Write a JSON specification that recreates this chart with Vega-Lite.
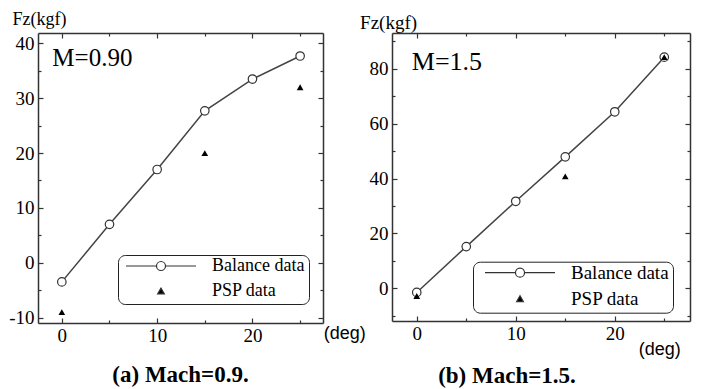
{
  "$schema": "https://vega.github.io/schema/vega-lite/v6.json",
  "autosize": {"type": "none"},
  "padding": {"left": 38, "top": 33, "right": 669, "bottom": 356},
  "background": "white",
  "bounds": "flush",
  "spacing": 69,
  "resolve": {"scale": {"shape": "independent", "fill": "independent", "size": "independent"}, "legend": {"shape": "independent", "fill": "independent", "size": "independent"}},
  "datasets": {
    "mach09": [
      {"series": "Balance data", "deg": 0, "fz": -3.5},
      {"series": "Balance data", "deg": 5, "fz": 7},
      {"series": "Balance data", "deg": 10, "fz": 17},
      {"series": "Balance data", "deg": 15, "fz": 27.7},
      {"series": "Balance data", "deg": 20, "fz": 33.5},
      {"series": "Balance data", "deg": 25, "fz": 37.7},
      {"series": "PSP data", "deg": 0, "fz": -9},
      {"series": "PSP data", "deg": 15, "fz": 20},
      {"series": "PSP data", "deg": 25, "fz": 32}
    ],
    "mach15": [
      {"series": "Balance data", "deg": 0, "fz": -1.5},
      {"series": "Balance data", "deg": 5, "fz": 15.2},
      {"series": "Balance data", "deg": 10, "fz": 31.7},
      {"series": "Balance data", "deg": 15, "fz": 47.9},
      {"series": "Balance data", "deg": 20, "fz": 64.3},
      {"series": "Balance data", "deg": 25, "fz": 84.2},
      {"series": "PSP data", "deg": 0, "fz": -2.8},
      {"series": "PSP data", "deg": 15, "fz": 40.8},
      {"series": "PSP data", "deg": 25, "fz": 84.2}
    ]
  },
  "config": {
    "view": {"stroke": null},
    "axis": {
      "domainColor": "#333", "domainWidth": 1.5, "tickColor": "#333", "tickWidth": 1.2,
      "labelFont": "Liberation Serif", "labelFontSize": 19, "labelColor": "black",
      "grid": false, "titleFont": "Liberation Serif", "titleFontWeight": "normal", "titleColor": "black"
    },
    "title": {"font": "Liberation Serif", "fontWeight": "bold", "fontSize": 23, "color": "black"},
    "legend": {
      "orient": "none", "labelFont": "Liberation Serif", "labelFontSize": 18, "labelColor": "black",
      "symbolStrokeWidth": 1.2, "symbolOpacity": 1, "clipHeight": 14,
      "strokeColor": "#222", "fillColor": "white", "cornerRadius": 7, "padding": 4,
      "rowPadding": 7, "symbolOffset": 3, "labelOffset": 15
    }
  },
  "hconcat": [
    {
      "width": 285, "height": 290,
      "data": {"name": "mach09"},
      "title": {"text": "(a) Mach=0.9.", "orient": "bottom", "anchor": "middle", "frame": "group", "offset": 37, "baseline": "alphabetic"},
      "resolve": {"axis": {"x": "independent", "y": "independent"}},
      "layer": [
        {
          "transform": [{"filter": "datum.series === 'Balance data'"}],
          "mark": {"type": "line", "color": "#444", "strokeWidth": 1.5},
          "encoding": {
            "x": {"field": "deg", "type": "quantitative", "scale": {"domain": [-2.5, 27.4], "nice": false, "zero": false},
              "axis": {"orient": "bottom", "values": [0, 10, 20], "format": "d",
                "labelFont": "Liberation Serif", "labelFontSize": 19, "labelColor": "black",
                "tickSize": -5, "labelPadding": 8, "title": "(deg)", "titleFont": "Liberation Sans", "titleFontSize": 18, "titleFontWeight": "normal",
                "titleX": 285.3, "titleY": 10.5, "titleAlign": "left", "titleBaseline": "middle", "titleAngle": 0}},
            "y": {"field": "fz", "type": "quantitative", "scale": {"domain": [-11, 41.9], "nice": false, "zero": false},
              "axis": {"orient": "left", "values": [-10, 0, 10, 20, 30, 40], "labelExpr": "'' + datum.value",
                "labelFont": "Liberation Serif", "labelFontSize": 19, "labelColor": "black",
                "tickSize": -5, "labelPadding": 9, "title": "Fz(kgf)", "titleFont": "Liberation Serif", "titleFontSize": 18, "titleFontWeight": "normal",
                "titleX": -26, "titleY": -9, "titleAlign": "left", "titleBaseline": "alphabetic", "titleAngle": 0}}
          }
        },
        {
          "transform": [{"filter": "datum.series === 'Balance data'"}],
          "mark": {"type": "point", "shape": "circle", "filled": true, "fill": "white", "stroke": "#333", "strokeWidth": 1.2, "size": 72, "opacity": 1},
          "encoding": {
            "x": {"field": "deg", "type": "quantitative",
              "axis": {"orient": "top", "values": [0, 10, 20], "labels": false, "title": null, "tickSize": -5}},
            "y": {"field": "fz", "type": "quantitative",
              "axis": {"orient": "right", "values": [-10, 0, 10, 20, 30, 40], "labels": false, "title": null, "tickSize": -5}}
          }
        },
        {
          "transform": [{"filter": "datum.series === 'PSP data'"}],
          "mark": {"type": "point", "shape": "triangle-up", "filled": true, "color": "black", "strokeWidth": 0, "size": 45, "opacity": 1},
          "encoding": {
            "x": {"field": "deg", "type": "quantitative",
              "axis": {"orient": "bottom", "values": [5, 15, 25], "labels": false, "title": null, "domain": false, "tickSize": -3}},
            "y": {"field": "fz", "type": "quantitative",
              "axis": {"orient": "left", "values": [-5, 5, 15, 25, 35], "labels": false, "title": null, "domain": false, "tickSize": -3}}
          }
        },
        {
          "data": {"values": [{"label": "M=0.90"}]},
          "mark": {"type": "text", "font": "Liberation Serif", "fontSize": 25, "align": "left", "baseline": "alphabetic", "color": "black"},
          "encoding": {
            "x": {"datum": -1, "type": "quantitative",
              "axis": {"orient": "top", "values": [5, 15, 25], "labels": false, "title": null, "domain": false, "tickSize": -3}},
            "y": {"datum": 35.8, "type": "quantitative",
              "axis": {"orient": "right", "values": [-5, 5, 15, 25, 35], "labels": false, "title": null, "domain": false, "tickSize": -3}},
            "text": {"field": "label"}
          }
        },
        {
          "mark": {"type": "point", "filled": true, "stroke": "#333", "strokeWidth": 1.2, "opacity": 0},
          "encoding": {
            "x": {"field": "deg", "type": "quantitative", "axis": null},
            "y": {"field": "fz", "type": "quantitative", "axis": null},
            "shape": {"field": "series", "type": "nominal",
              "scale": {"domain": ["Balance data", "PSP data"], "range": ["M-1,0L-0.129,0M0.129,0L1,0M0.129,0A0.129,0.129,0,1,1,-0.129,0A0.129,0.129,0,1,1,0.129,0Z", "triangle-up"]},
              "legend": {"title": null, "legendX": 80, "legendY": 222, "labelFontSize": 18}},
            "fill": {"field": "series", "type": "nominal",
              "scale": {"domain": ["Balance data", "PSP data"], "range": ["white", "black"]}},
            "size": {"field": "series", "type": "ordinal",
              "scale": {"domain": ["Balance data", "PSP data"], "range": [4900, 45]}}
          }
        }
      ]
    },
    {
      "width": 298, "height": 288,
      "data": {"name": "mach15"},
      "title": {"text": "(b) Mach=1.5.", "orient": "bottom", "anchor": "middle", "frame": "group", "offset": 24, "dx": -34, "baseline": "alphabetic"},
      "resolve": {"axis": {"x": "independent", "y": "independent"}},
      "layer": [
        {
          "transform": [{"filter": "datum.series === 'Balance data'"}],
          "mark": {"type": "line", "color": "#444", "strokeWidth": 1.5},
          "encoding": {
            "x": {"field": "deg", "type": "quantitative", "scale": {"domain": [-2.5, 27.6], "nice": false, "zero": false},
              "axis": {"orient": "bottom", "values": [0, 10, 20], "format": "d",
                "labelFont": "Liberation Serif", "labelFontSize": 19, "labelColor": "black",
                "tickSize": -5, "labelPadding": 8, "title": "(deg)", "titleFont": "Liberation Sans", "titleFontSize": 18, "titleFontWeight": "normal",
                "titleX": 246.3, "titleY": 28.7, "titleAlign": "left", "titleBaseline": "middle", "titleAngle": 0}},
            "y": {"field": "fz", "type": "quantitative", "scale": {"domain": [-11.9, 93], "nice": false, "zero": false},
              "axis": {"orient": "left", "values": [0, 20, 40, 60, 80], "labelExpr": "'' + datum.value",
                "labelFont": "Liberation Serif", "labelFontSize": 19, "labelColor": "black",
                "tickSize": -5, "labelPadding": 9, "title": "Fz(kgf)", "titleFont": "Liberation Serif", "titleFontSize": 19, "titleFontWeight": "normal",
                "titleX": -32.4, "titleY": -5, "titleAlign": "left", "titleBaseline": "alphabetic", "titleAngle": 0}}
          }
        },
        {
          "transform": [{"filter": "datum.series === 'Balance data'"}],
          "mark": {"type": "point", "shape": "circle", "filled": true, "fill": "white", "stroke": "#333", "strokeWidth": 1.2, "size": 72, "opacity": 1},
          "encoding": {
            "x": {"field": "deg", "type": "quantitative",
              "axis": {"orient": "top", "values": [0, 10, 20], "labels": false, "title": null, "tickSize": -5}},
            "y": {"field": "fz", "type": "quantitative",
              "axis": {"orient": "right", "values": [0, 20, 40, 60, 80], "labels": false, "title": null, "tickSize": -5}}
          }
        },
        {
          "transform": [{"filter": "datum.series === 'PSP data'"}],
          "mark": {"type": "point", "shape": "triangle-up", "filled": true, "color": "black", "strokeWidth": 0, "size": 45, "opacity": 1},
          "encoding": {
            "x": {"field": "deg", "type": "quantitative",
              "axis": {"orient": "bottom", "values": [5, 15, 25], "labels": false, "title": null, "domain": false, "tickSize": -3}},
            "y": {"field": "fz", "type": "quantitative",
              "axis": {"orient": "left", "values": [-10, 10, 30, 50, 70, 90], "labels": false, "title": null, "domain": false, "tickSize": -3}}
          }
        },
        {
          "data": {"values": [{"label": "M=1.5"}]},
          "mark": {"type": "text", "font": "Liberation Serif", "fontSize": 26, "align": "left", "baseline": "alphabetic", "color": "black"},
          "encoding": {
            "x": {"datum": -0.5, "type": "quantitative",
              "axis": {"orient": "top", "values": [5, 15, 25], "labels": false, "title": null, "domain": false, "tickSize": -3}},
            "y": {"datum": 79.6, "type": "quantitative",
              "axis": {"orient": "right", "values": [-10, 10, 30, 50, 70, 90], "labels": false, "title": null, "domain": false, "tickSize": -3}},
            "text": {"field": "label"}
          }
        },
        {
          "mark": {"type": "point", "filled": true, "stroke": "#333", "strokeWidth": 1.2, "opacity": 0},
          "encoding": {
            "x": {"field": "deg", "type": "quantitative", "axis": null},
            "y": {"field": "fz", "type": "quantitative", "axis": null},
            "shape": {"field": "series", "type": "nominal",
              "scale": {"domain": ["Balance data", "PSP data"], "range": ["M-1,0L-0.129,0M0.129,0L1,0M0.129,0A0.129,0.129,0,1,1,-0.129,0A0.129,0.129,0,1,1,0.129,0Z", "triangle-up"]},
              "legend": {"title": null, "legendX": 81, "legendY": 228.7, "labelFontSize": 19, "symbolOffset": 7, "labelOffset": 15}},
            "fill": {"field": "series", "type": "nominal",
              "scale": {"domain": ["Balance data", "PSP data"], "range": ["white", "black"]}},
            "size": {"field": "series", "type": "ordinal",
              "scale": {"domain": ["Balance data", "PSP data"], "range": [4900, 45]}}
          }
        }
      ]
    }
  ]
}
